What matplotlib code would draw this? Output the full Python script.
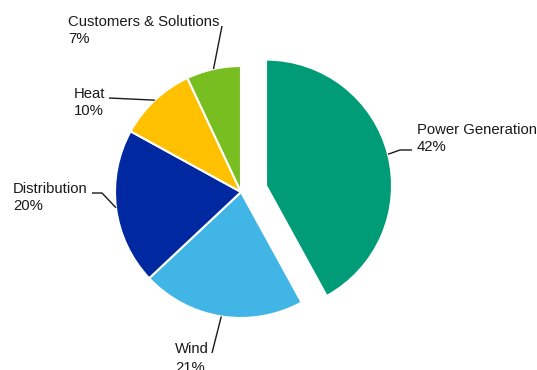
import numpy as np
import matplotlib
matplotlib.use("Agg")
import matplotlib.pyplot as plt

categories = ["Power Generation", "Wind", "Distribution", "Heat", "Customers & Solutions"]
shares = [42, 21, 20, 10, 7]
pct_labels = ["42%", "21%", "20%", "10%", "7%"]
colors = ["#009B77", "#41B6E6", "#0028A0", "#FFC000", "#78BE20"]
explode_frac = [0.205, 0, 0, 0, 0]

W, H = 537, 370
fig = plt.figure(figsize=(W / 100, H / 100), dpi=100)
ax = fig.add_axes([0, 0, 1, 1])

def Y(yp):
    return H - yp

cx, cy, R = 241, Y(192), 126
wedges, _ = ax.pie(shares, colors=colors, startangle=90, counterclock=False,
                   explode=[e * R for e in explode_frac], center=(cx, cy), radius=R,
                   wedgeprops=dict(edgecolor="white", linewidth=1.5))
ax.set_xlim(0, W)
ax.set_ylim(0, H)
ax.set_aspect("equal")
ax.axis("off")

# label layout (pixel coords): text x, name baseline, pct baseline, leader path after anchor
layout = {
    "Customers & Solutions": (68, 26, 43, [(222, 26)]),
    "Heat": (74, 98, 115, [(109, 98)]),
    "Distribution": (13, 193, 210, [(102, 193), (92, 193)]),
    "Wind": (175, 353, 372, [(212, 353)]),
    "Power Generation": (417, 134, 151, [(400, 150), (412, 150)]),
}

fs = 10.7
tc = "#1a1a1a"
for w, name, pct in zip(wedges, categories, pct_labels):
    mid = np.deg2rad((w.theta1 + w.theta2) / 2)
    wx, wy = w.center
    ax_ = wx + w.r * np.cos(mid)
    ay_ = wy + w.r * np.sin(mid)
    tx, tb, pb, path = layout[name]
    xs = [ax_] + [p[0] for p in path]
    ys = [ay_] + [Y(p[1]) for p in path]
    ax.plot(xs, ys, color=tc, lw=1.0, solid_capstyle="butt")
    ax.text(tx, Y(tb), name, fontsize=fs, family="Liberation Sans", color=tc,
            ha="left", va="baseline")
    ax.text(tx, Y(pb), pct, fontsize=fs, family="Liberation Sans", color=tc,
            ha="left", va="baseline")

fig.savefig("out.png", dpi=100)
